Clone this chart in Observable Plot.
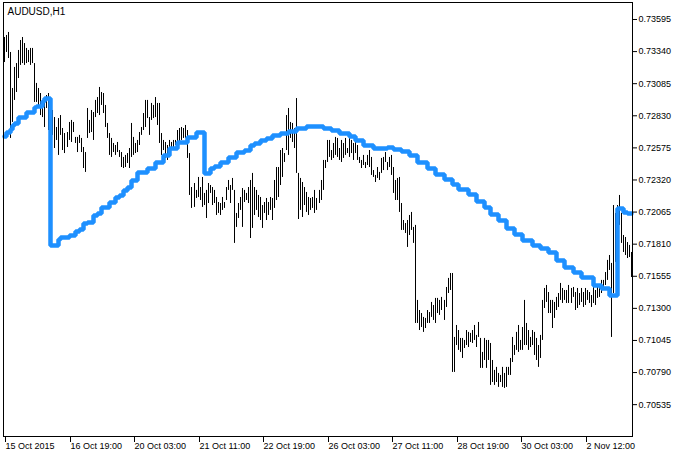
<!DOCTYPE html>
<html><head><meta charset="utf-8">
<script src="https://cdn.jsdelivr.net/npm/d3@7"></script>
<script src="https://cdn.jsdelivr.net/npm/@observablehq/plot@0.6"></script>
<style>html,body{margin:0;padding:0;background:#fff}svg{display:block}</style>
</head><body><div id="chart"></div>
<script>
const title = "AUDUSD,H1";

const highs = [
0.73452,0.73468,0.73492,0.73333,0.73047,0.73214,0.73245,0.73349,0.73428,0.73452,
0.73404,0.73365,0.73349,0.73365,0.73365,0.73245,0.73087,0.73047,0.73007,0.72952,
0.72928,0.72991,0.73007,0.72952,0.72872,0.72816,0.72737,0.72808,0.72832,0.72729,
0.72689,0.72697,0.72777,0.72793,0.72777,0.72658,0.72658,0.72674,0.72650,0.72578,
0.72538,0.72888,0.72793,0.72872,0.72856,0.72952,0.72975,0.73055,0.73015,0.73007,
0.72912,0.72769,0.72689,0.72650,0.72610,0.72594,0.72618,0.72554,0.72538,0.72499,
0.72515,0.72530,0.72570,0.72769,0.72658,0.72610,0.72634,0.72697,0.72737,0.72848,
0.72952,0.72952,0.72816,0.72928,0.72912,0.72975,0.72928,0.72928,0.72689,0.72634,
0.72618,0.72594,0.72634,0.72618,0.72634,0.72634,0.72713,0.72729,0.72737,0.72729,
0.72753,0.72713,0.72530,0.72260,0.72292,0.72237,0.72340,0.72260,0.72340,0.72213,
0.72237,0.72292,0.72276,0.72260,0.72237,0.72181,0.72141,0.72133,0.72181,0.72141,
0.72260,0.72316,0.72276,0.72332,0.72237,0.72054,0.72133,0.72181,0.72252,0.72237,
0.72213,0.72260,0.72316,0.72372,0.72260,0.72237,0.72197,0.72181,0.72117,0.72141,
0.72173,0.72141,0.72181,0.72173,0.72316,0.72419,0.72419,0.72554,0.72570,0.72530,
0.72832,0.72888,0.72777,0.72769,0.72729,0.72967,0.72372,0.72332,0.72300,0.72260,
0.72221,0.72181,0.72173,0.72181,0.72237,0.72173,0.72237,0.72316,0.72475,0.72475,
0.72634,0.72634,0.72554,0.72610,0.72658,0.72650,0.72570,0.72634,0.72610,0.72650,
0.72570,0.72658,0.72634,0.72610,0.72634,0.72594,0.72499,0.72475,0.72515,0.72459,
0.72515,0.72554,0.72499,0.72395,0.72356,0.72419,0.72380,0.72491,0.72499,0.72538,
0.72459,0.72499,0.72515,0.72419,0.72316,0.72332,0.72340,0.72133,0.71998,0.71974,
0.71998,0.72038,0.72062,0.71943,0.71959,0.71363,0.71283,0.71259,0.71228,0.71220,
0.71283,0.71267,0.71347,0.71323,0.71379,0.71379,0.71363,0.71387,0.71363,0.71466,
0.71538,0.71577,0.71577,0.71069,0.71164,0.71124,0.71061,0.71061,0.71045,0.71124,
0.71109,0.71101,0.71124,0.71164,0.71085,0.71188,0.71061,0.70950,0.71061,0.71045,
0.71045,0.71021,0.70886,0.70807,0.70831,0.70783,0.70767,0.70831,0.70783,0.70831,
0.70831,0.70902,0.71069,0.71005,0.71109,0.71164,0.71045,0.71148,0.71363,0.71180,
0.71124,0.71069,0.71124,0.71109,0.71061,0.71005,0.71085,0.71363,0.71458,0.71482,
0.71426,0.71363,0.71363,0.71347,0.71387,0.71418,0.71498,0.71458,0.71442,0.71442,
0.71482,0.71458,0.71466,0.71426,0.71458,0.71418,0.71458,0.71426,0.71458,0.71442,
0.71426,0.71402,0.71482,0.71442,0.71482,0.71482,0.71522,0.71522,0.71585,0.71681,
0.71720,0.71657,0.72117,0.72054,0.72117,0.72197,0.72054,0.71879,0.71863,0.71823,
0.71800,0.71744
];

const lows = [
0.73253,0.73333,0.73285,0.72650,0.72777,0.72952,0.73015,0.73126,0.73230,0.73245,
0.73230,0.73245,0.73253,0.73230,0.73245,0.72936,0.72936,0.72912,0.72832,0.72816,
0.72737,0.72888,0.72713,0.72753,0.72674,0.72570,0.72634,0.72515,0.72674,0.72554,
0.72530,0.72578,0.72634,0.72618,0.72697,0.72610,0.72538,0.72610,0.72538,0.72411,
0.72380,0.72650,0.72689,0.72697,0.72634,0.72816,0.72848,0.72832,0.72912,0.72848,
0.72737,0.72650,0.72515,0.72499,0.72538,0.72515,0.72538,0.72499,0.72419,0.72411,
0.72419,0.72451,0.72411,0.72499,0.72515,0.72530,0.72538,0.72594,0.72674,0.72713,
0.72737,0.72808,0.72674,0.72793,0.72808,0.72816,0.72753,0.72610,0.72515,0.72554,
0.72491,0.72475,0.72515,0.72570,0.72570,0.72594,0.72610,0.72618,0.72634,0.72650,
0.72650,0.72491,0.72197,0.72094,0.72102,0.72173,0.72181,0.72157,0.72102,0.72117,
0.72014,0.72133,0.72213,0.72117,0.72133,0.72038,0.72054,0.72038,0.72078,0.72094,
0.72157,0.72237,0.72133,0.72237,0.71816,0.71943,0.72014,0.72078,0.71943,0.72141,
0.72157,0.72133,0.71855,0.71935,0.72038,0.72078,0.72022,0.71998,0.71935,0.72054,
0.71998,0.72038,0.72078,0.71998,0.72094,0.72157,0.72181,0.72276,0.72340,0.72459,
0.72554,0.72515,0.72650,0.72618,0.72570,0.72372,0.72006,0.72078,0.72022,0.72117,
0.72062,0.72038,0.72078,0.72094,0.72054,0.72078,0.72133,0.72157,0.72237,0.72411,
0.72459,0.72499,0.72475,0.72491,0.72515,0.72499,0.72475,0.72459,0.72491,0.72515,
0.72530,0.72499,0.72530,0.72475,0.72530,0.72475,0.72451,0.72411,0.72435,0.72411,
0.72435,0.72419,0.72356,0.72340,0.72300,0.72332,0.72316,0.72372,0.72395,0.72459,
0.72395,0.72419,0.72356,0.72213,0.72157,0.72157,0.72062,0.71919,0.71919,0.71895,
0.71784,0.71879,0.71919,0.71816,0.71180,0.71180,0.71124,0.71148,0.71109,0.71140,
0.71180,0.71180,0.71228,0.71204,0.71180,0.71259,0.71244,0.71283,0.71204,0.71307,
0.71418,0.71442,0.70791,0.70791,0.71005,0.70966,0.70950,0.70902,0.70981,0.71005,
0.70989,0.71029,0.71021,0.71045,0.70989,0.71069,0.70823,0.70823,0.70886,0.70823,
0.70886,0.70688,0.70711,0.70688,0.70711,0.70672,0.70711,0.70672,0.70664,0.70672,
0.70767,0.70767,0.70870,0.70926,0.70966,0.70950,0.70966,0.70966,0.71005,0.71005,
0.70966,0.70989,0.71005,0.70926,0.70886,0.70831,0.70902,0.71045,0.71299,0.71347,
0.71259,0.71259,0.71140,0.71220,0.71283,0.71307,0.71363,0.71339,0.71363,0.71339,
0.71339,0.71339,0.71387,0.71283,0.71299,0.71323,0.71347,0.71307,0.71323,0.71363,
0.71339,0.71307,0.71339,0.71323,0.71379,0.71387,0.71418,0.71442,0.71482,0.71522,
0.71601,0.71069,0.71418,0.71665,0.71879,0.71959,0.71816,0.71744,0.71720,0.71696,
0.71704,0.71545
];

// stepped indicator line: bar index where each level starts, and the level
const trendIdx = [0,1,3,4,5,7,11,15,16,19,20,23,27,28,32,35,37,39,41,44,46,48,52,55,57,59,61,63,66,71,75,79,82,86,91,95,99,102,104,107,111,115,119,122,124,127,130,133,137,141,145,150,158,162,166,171,174,178,183,190,193,197,201,205,210,214,218,222,225,230,234,238,241,245,249,253,257,262,266,270,274,278,282,286,292,296,300,304,307,309,311];
const trendVal = [0.72666,0.72697,0.72721,0.72753,0.72769,0.72816,0.72856,0.72896,0.72904,0.72944,0.72967,0.71800,0.71847,0.71863,0.71879,0.71911,0.71927,0.71974,0.71982,0.72038,0.72054,0.72102,0.72141,0.72181,0.72197,0.72237,0.72260,0.72316,0.72380,0.72411,0.72459,0.72515,0.72570,0.72618,0.72658,0.72697,0.72372,0.72411,0.72427,0.72459,0.72499,0.72538,0.72554,0.72594,0.72610,0.72634,0.72650,0.72674,0.72689,0.72705,0.72729,0.72745,0.72729,0.72713,0.72689,0.72666,0.72634,0.72594,0.72570,0.72578,0.72562,0.72546,0.72515,0.72459,0.72411,0.72364,0.72324,0.72284,0.72245,0.72205,0.72149,0.72102,0.72046,0.71998,0.71935,0.71887,0.71839,0.71800,0.71776,0.71744,0.71681,0.71625,0.71585,0.71545,0.71482,0.71458,0.71402,0.72094,0.72062,0.72054,0.72054];

const yTicks = [0.73595,0.73340,0.73085,0.72830,0.72575,0.72320,0.72065,0.71810,0.71555,0.71300,0.71045,0.70790,0.70535];
const xTickIdx = [0,32,64,96,128,160,192,224,256,288];
const xTickLabels = ["15 Oct 2015","16 Oct 19:00","20 Oct 03:00","21 Oct 11:00","22 Oct 19:00","26 Oct 03:00","27 Oct 11:00","28 Oct 19:00","30 Oct 03:00","2 Nov 12:00"];

const bars = highs.map((h, i) => ({i, high: h, low: lows[i]}));
const trend = trendIdx.map((i, k) => ({i, v: trendVal[k]}));
const n = highs.length;

const chart = Plot.plot({
  width: 685,
  height: 453,
  marginTop: 2,
  marginRight: 53,
  marginBottom: 17,
  marginLeft: 3,
  style: {fontFamily: "'Liberation Sans', Arial, sans-serif", fontSize: "9px", color: "#000", background: "#fff", overflow: "visible"},
  x: {domain: [-0.5, n - 0.5], round: true, axis: null},
  y: {domain: [0.70282, 0.73730], axis: null},
  marks: [
    Plot.ruleX(bars, {x: "i", y1: "low", y2: "high", stroke: "#000", strokeWidth: 1}),
    Plot.line(trend, {x: "i", y: "v", curve: "step-after", stroke: "#1E90FF", strokeWidth: 4.5, strokeLinejoin: "miter"}),
    Plot.frame({stroke: "#000"}),
    Plot.axisY(yTicks, {anchor: "right", tickSize: 4, tickPadding: 2, tickFormat: d => d.toFixed(5), fontSize: 9, label: null}),
    Plot.axisX(xTickIdx, {anchor: "bottom", tickSize: 6, tickPadding: 0, tickFormat: d => xTickLabels[xTickIdx.indexOf(d)], textAnchor: "start", dx: 1, fontSize: 9, label: null}),
    Plot.text([title], {text: d => d, frameAnchor: "top-left", dx: 4, dy: 9, fontSize: 10, textAnchor: "start", lineAnchor: "middle", fill: "#000"})
  ]
});
document.getElementById("chart").appendChild(chart);
</script>
</body></html>
